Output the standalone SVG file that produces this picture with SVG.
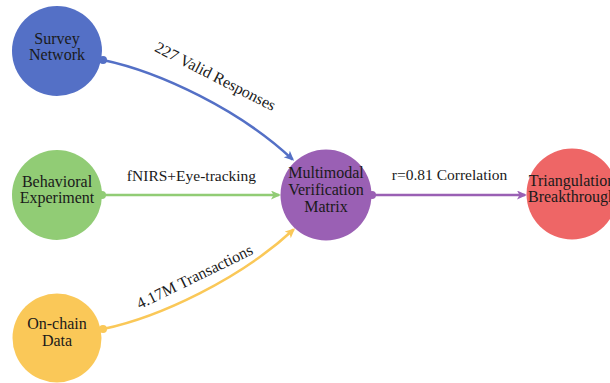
<svg xmlns="http://www.w3.org/2000/svg" width="610" height="383" viewBox="0 0 610 383">
  <style>
    .node-label { font-family: "Liberation Serif", "Times New Roman", serif; font-size: 16px; fill: #1a1a1a; text-anchor: middle; }
    .edge-label { font-family: "Liberation Serif", "Times New Roman", serif; font-size: 15.5px; fill: #1a1a1a; text-anchor: middle; }
    .edge { fill: none; stroke-width: 2.5; }
  </style>
  <defs>
    <marker id="arrow-blue" markerUnits="userSpaceOnUse" markerWidth="12" markerHeight="10" refX="8" refY="4.5" orient="auto">
      <path d="M0,0 L10,4.5 L0,9 L2.5,4.5 z" fill="#5470C6"/>
    </marker>
    <marker id="arrow-green" markerUnits="userSpaceOnUse" markerWidth="12" markerHeight="10" refX="8" refY="4.5" orient="auto">
      <path d="M0,0 L10,4.5 L0,9 L2.5,4.5 z" fill="#91CC75"/>
    </marker>
    <marker id="arrow-yellow" markerUnits="userSpaceOnUse" markerWidth="12" markerHeight="10" refX="8" refY="4.5" orient="auto">
      <path d="M0,0 L10,4.5 L0,9 L2.5,4.5 z" fill="#FAC858"/>
    </marker>
    <marker id="arrow-purple" markerUnits="userSpaceOnUse" markerWidth="12" markerHeight="10" refX="8" refY="4.5" orient="auto">
      <path d="M0,0 L10,4.5 L0,9 L2.5,4.5 z" fill="#9A60B4"/>
    </marker>
  </defs>

  <rect width="610" height="383" fill="#ffffff"/>

  <!-- connectors -->
  <g id="edges">
    <g id="edge-survey-matrix">
      <path class="edge" stroke="#5470C6" d="M103,60 C160,72 240,110 292.6,159.5" marker-end="url(#arrow-blue)"/>
      <circle cx="103" cy="60" r="4" fill="#5470C6"/>
      <text class="edge-label" style="font-size:16px" transform="translate(213,81) rotate(27)">227 Valid Responses</text>
    </g>
    <g id="edge-behavioral-matrix">
      <path class="edge" stroke="#91CC75" d="M102,195 L279,195" marker-end="url(#arrow-green)"/>
      <circle cx="102" cy="195" r="4" fill="#91CC75"/>
      <text class="edge-label" x="191.5" y="181">fNIRS+Eye-tracking</text>
    </g>
    <g id="edge-onchain-matrix">
      <path class="edge" stroke="#FAC858" d="M103,329 C160,317 240,279 293.6,229.5" marker-end="url(#arrow-yellow)"/>
      <circle cx="103" cy="329" r="4" fill="#FAC858"/>
      <text class="edge-label" style="font-size:16px" transform="translate(197,281.5) rotate(-26)">4.17M Transactions</text>
    </g>
    <g id="edge-matrix-triangulation">
      <path class="edge" stroke="#9A60B4" d="M372,195 L525,195" marker-end="url(#arrow-purple)"/>
      <circle cx="372" cy="195" r="4" fill="#9A60B4"/>
      <text class="edge-label" x="449.5" y="180">r=0.81 Correlation</text>
    </g>
  </g>

  <!-- nodes -->
  <g id="node-survey">
    <circle cx="57" cy="51" r="45" fill="#5470C6"/>
    <text class="node-label" x="57" y="44">Survey</text>
    <text class="node-label" x="57" y="60">Network</text>
  </g>
  <g id="node-behavioral">
    <circle cx="57" cy="195" r="45" fill="#91CC75"/>
    <text class="node-label" x="57" y="187">Behavioral</text>
    <text class="node-label" x="57" y="203">Experiment</text>
  </g>
  <g id="node-onchain">
    <circle cx="57" cy="338" r="44.5" fill="#FAC858"/>
    <text class="node-label" x="57" y="329">On-chain</text>
    <text class="node-label" x="57" y="346">Data</text>
  </g>
  <g id="node-matrix">
    <circle cx="326" cy="195" r="45.5" fill="#9A60B4"/>
    <text class="node-label" x="326" y="178">Multimodal</text>
    <text class="node-label" x="326" y="195">Verification</text>
    <text class="node-label" x="326" y="212">Matrix</text>
  </g>
  <g id="node-triangulation">
    <circle cx="572" cy="194" r="45.5" fill="#EE6666"/>
    <text class="node-label" x="572" y="186">Triangulation</text>
    <text class="node-label" x="572" y="202">Breakthrough</text>
  </g>
</svg>
